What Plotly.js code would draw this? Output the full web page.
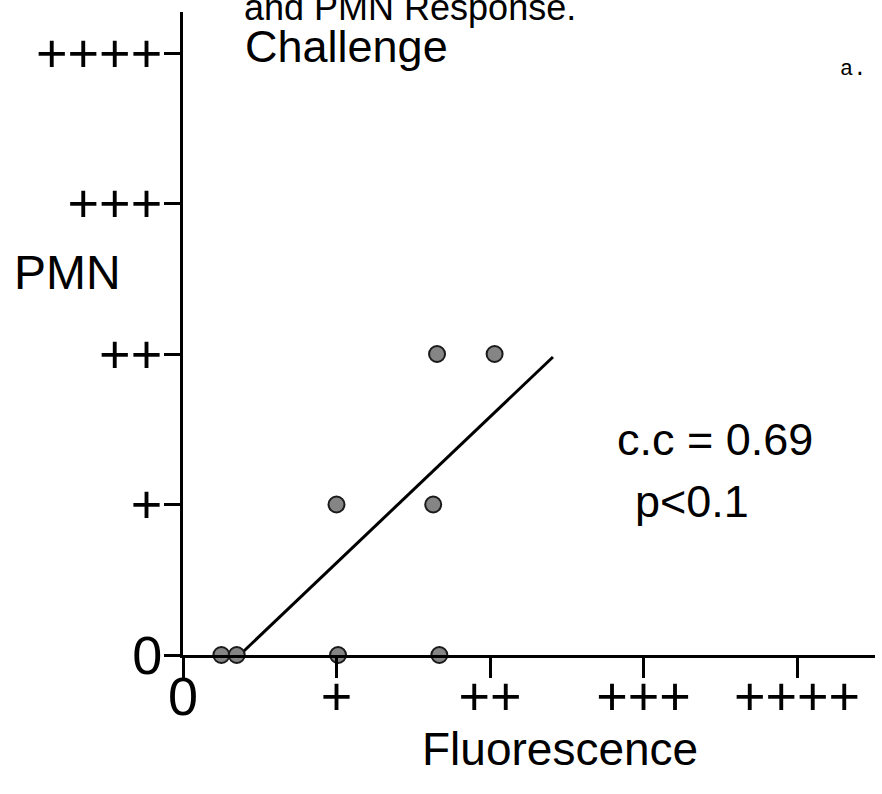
<!DOCTYPE html>
<html>
<head>
<meta charset="utf-8">
<script src="https://cdn.plot.ly/plotly-3.0.1.min.js"></script>
<style>html,body{margin:0;padding:0;background:#fff;}#chart{width:882px;height:794px;}</style>
</head>
<body>
<div id="chart"></div>
<script>
// ---- data ----
const tickVals = [0, 1, 2, 3, 4];
const tickText = ['0', '+', '++', '+++', '++++'];
const fluorescence = [0.25, 0.35, 1.01, 1.67, 1.0, 1.63, 1.655, 2.03];
const pmnResponse = [0, 0, 0, 0, 1, 1, 2, 2];
const fitX = [0.39, 2.41];
const fitY = [0.02, 1.98];
const titleText = 'and PMN Response.';
const panelText = 'Challenge';
const panelTag = 'a.';
const xTitle = 'Fluorescence';
const yTitle = 'PMN';
const statLine1 = 'c.c = 0.69';
const statLine2 = 'p<0.1';

// ---- geometry (pixels of the 882x794 page) ----
const W = 882, H = 794;
const x0px = 183, xEndPx = 875, xUnit = 153.5;
const y0px = 655, yTopPx = 12, yUnit = 150.5;
const px = v => v / W;
const py = v => 1 - v / H;

const sans = 'Liberation Sans, Arial, sans-serif';

const traces = [
  {
    type: 'scatter', mode: 'lines', x: fitX, y: fitY,
    line: {color: '#000', width: 3}, cliponaxis: false, hoverinfo: 'skip'
  },
  {
    type: 'scatter', mode: 'markers', x: fluorescence, y: pmnResponse,
    marker: {size: 16, color: '#858585', line: {color: '#1a1a1a', width: 2}},
    cliponaxis: false
  }
];

const axisCommon = {
  showline: true, linecolor: '#000', linewidth: 3,
  ticks: 'outside', tickwidth: 3, tickcolor: '#000',
  tickvals: tickVals, ticktext: tickText,
  tickfont: {family: sans, size: 54, color: '#000'},
  showgrid: false, zeroline: false, fixedrange: true
};

function label(text, xPix, yPix, size, family) {
  return {text: text, xref: 'paper', yref: 'paper', x: px(xPix), y: py(yPix),
          xanchor: 'left', yanchor: 'middle', showarrow: false,
          font: {family: family || sans, size: size, color: '#000'}};
}

const layout = {
  width: W, height: H,
  margin: {l: 0, r: 0, t: 0, b: 0, pad: 0},
  paper_bgcolor: '#fff', plot_bgcolor: '#fff',
  showlegend: false,
  xaxis: Object.assign({}, axisCommon, {
    domain: [px(x0px), px(xEndPx)],
    range: [0, (xEndPx - x0px) / xUnit],
    ticklen: 20, ticklabelstandoff: -28
  }),
  yaxis: Object.assign({}, axisCommon, {
    domain: [py(y0px), py(yTopPx)],
    range: [0, (y0px - yTopPx) / yUnit],
    ticklen: 16, ticklabelstandoff: -9
  }),
  annotations: [
    label(titleText, 242, 7, 36),
    label(panelText, 243, 46, 45),
    label(panelTag, 838, 70, 22, 'Liberation Mono, Courier New, monospace'),
    label(yTitle, 12, 272, 48),
    label(statLine1, 615, 439, 45),
    label(statLine2, 633, 501, 45),
    label(xTitle, 420, 749, 46)
  ]
};

Plotly.newPlot('chart', traces, layout, {displayModeBar: false, staticPlot: true});
</script>
</body>
</html>
